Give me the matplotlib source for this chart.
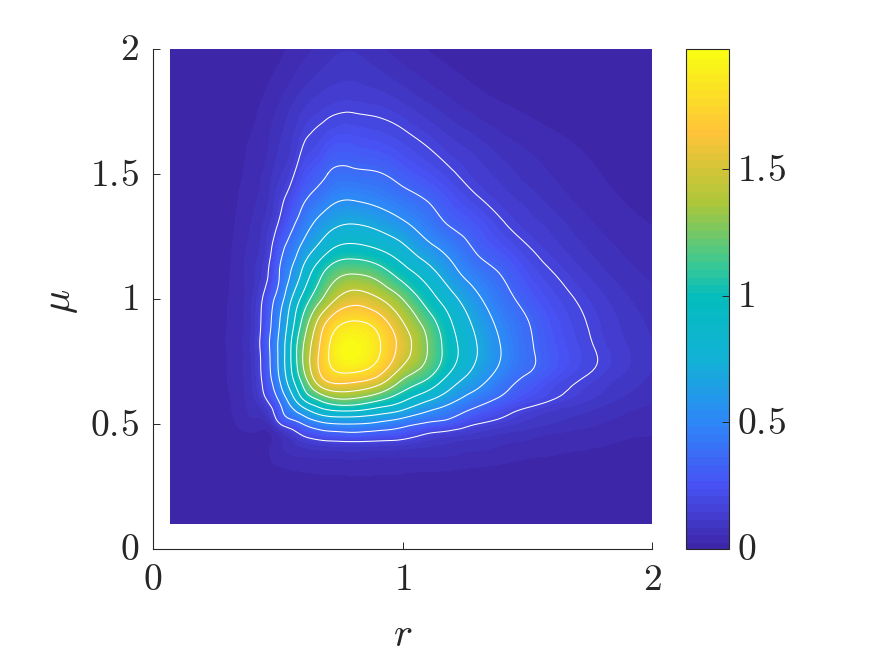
import numpy as np
import matplotlib
matplotlib.use("Agg")
import matplotlib.pyplot as plt
import matplotlib.tri as mtri
from matplotlib.colors import LinearSegmentedColormap, BoundaryNorm
from matplotlib.cm import ScalarMappable
from matplotlib.transforms import ScaledTranslation

r_nodes = [0.072, 0.2, 0.3, 0.4, 0.45, 0.5, 0.55, 0.6, 0.65, 0.7, 0.8, 0.9, 1.0, 1.1, 1.2, 1.3, 1.4, 1.5, 1.6, 1.8, 2.0]
mu_nodes = [0.1, 0.2, 0.3, 0.4, 0.45, 0.5, 0.55, 0.6, 0.65, 0.7, 0.8, 0.9, 1.0, 1.1, 1.2, 1.3, 1.4, 1.5, 1.6, 1.8, 2.0]

# density; the field is nearly symmetric in (r, mu), so each row starts at the diagonal
row_010 = [0.0] * 21
row_020 = [.001, .002, .003, .003, .004, .004, .004, .004, .004, .004, .004, .004, .004, .004, .003, .003, .003, .002, .002, .002]
row_030 = [.004, .012, .016, .02, .024, .027, .03, .032, .033, .032, .03, .027, .024, .02, .017, .014, .012, .008, .005]
row_040 = [.004, .02, .05, .07, .085, .095, .10, .105, .10, .095, .085, .075, .065, .055, .045, .038, .028, .018]
row_045 = [.02, .05, .10, .17, .22, .25, .27, .25, .22, .15, .12, .10, .08, .07, .055, .04, .03]
row_050 = [.15, .26, .36, .46, .52, .54, .50, .42, .33, .27, .18, .14, .11, .09, .06, .04]
row_055 = [.47, .62, .76, .85, .88, .80, .69, .54, .43, .31, .22, .155, .12, .08, .05]
row_060 = [.90, 1.07, 1.20, 1.25, 1.13, .95, .76, .59, .44, .33, .24, .185, .11, .07]
row_065 = [1.35, 1.52, 1.54, 1.42, 1.16, .97, .73, .56, .41, .30, .22, .13, .08]
row_070 = [1.72, 1.78, 1.66, 1.34, 1.14, .86, .65, .48, .36, .27, .155, .09]
row_080 = [1.97, 1.83, 1.54, 1.26, .96, .72, .53, .39, .29, .165, .095]
row_090 = [1.74, 1.46, 1.19, .90, .67, .49, .37, .27, .15, .085]
row_100 = [1.26, 1.0, .77, .57, .42, .31, .23, .13, .07]
row_110 = [.81, .60, .45, .35, .25, .185, .10, .055]
row_120 = [.47, .34, .26, .19, .14, .075, .04]
row_130 = [.27, .19, .14, .11, .055, .03]
row_140 = [.14, .11, .08, .04, .02]
row_150 = [.08, .06, .03, .015]
row_160 = [.045, .022, .01]
row_180 = [.012, .006]
row_200 = [.003]
upper_rows = [row_010, row_020, row_030, row_040, row_045, row_050, row_055, row_060, row_065, row_070,
              row_080, row_090, row_100, row_110, row_120, row_130, row_140, row_150, row_160, row_180, row_200]
# the top two rows of the picture are fainter than the right-hand columns
top_mu_180 = [0, .002, .006, .02, .035, .055, .08, .105, .125, .14, .15, .14, .115, .085, .06, .04, .028, .02, .014, .008, .005]
top_mu_200 = [0, .001, .002, .006, .012, .022, .035, .05, .065, .08, .09, .07, .045, .03, .018, .012, .008, .005, .004, .003, .002]

contour_levels = [0.18, 0.36, 0.54, 0.72, 0.90, 1.08, 1.26, 1.44, 1.62, 1.80]
z_max = 1.975
x_ticks = [0, 1, 2]
x_tick_labels = ["$0$", "$1$", "$2$"]
y_ticks = [0, 0.5, 1, 1.5, 2]
y_tick_labels = ["$0$", r"$0.\!5$", "$1$", r"$1.\!5$", "$2$"]
bar_ticks = [0, 0.5, 1, 1.5]
bar_tick_labels = ["$0$", r"$0.\!5$", "$1$", r"$1.\!5$"]

parula_stops = [(0.0, (0.2422, 0.1504, 0.6603)), (0.127, (0.2810, 0.3228, 0.9579)),
                (0.254, (0.1786, 0.5289, 0.9682)), (0.381, (0.0689, 0.6948, 0.8394)),
                (0.508, (0.0165, 0.7408, 0.7377)), (0.571, (0.2161, 0.7843, 0.5923)),
                (0.698, (0.6720, 0.7793, 0.2227)), (0.841, (0.9970, 0.7659, 0.2199)),
                (1.0, (0.9769, 0.9839, 0.0805))]
cmap = LinearSegmentedColormap.from_list("parula_like", parula_stops, N=64)

plt.rcParams["mathtext.fontset"] = "cm"
ink = "#262626"
W, H = 891, 656
fig = plt.figure(figsize=(W / 100, H / 100), dpi=100)
ax = fig.add_axes([153 / W, (H - 549) / H, 499 / W, 500 / H])

n = len(r_nodes)
Z = np.zeros((n, n))
for i, row in enumerate(upper_rows):
    for k, v in enumerate(row):
        Z[i, i + k] = v
        Z[i + k, i] = v
Z[-2, :] = top_mu_180
Z[-1, :] = top_mu_200
R, M = np.meshgrid(r_nodes, mu_nodes)
tri = mtri.Triangulation(R.ravel(), M.ravel())
# interpolate the logarithm: the field falls off roughly exponentially, so this keeps contours smooth
log_z = np.log(Z.ravel() + 0.01)
interp = mtri.CubicTriInterpolator(tri, log_z, kind="min_E")
fine_tri, fine_log = mtri.UniformTriRefiner(tri).refine_field(log_z, interp, subdiv=3)
fine_z = np.clip(np.exp(fine_log) - 0.01, 0, None)

fill_levels = np.linspace(0, z_max, 65)
norm = BoundaryNorm(fill_levels, cmap.N)
ax.tricontourf(fine_tri, fine_z, levels=fill_levels, cmap=cmap, norm=norm, extend="max", antialiased=False)
ax.tricontour(fine_tri, fine_z, levels=contour_levels, colors="white", linewidths=0.75)

ax.set_xlim(0, 2)
ax.set_ylim(0, 2)
for side in ("top", "right"):
    ax.spines[side].set_visible(False)
for side in ("left", "bottom"):
    ax.spines[side].set_color(ink)
    ax.spines[side].set_linewidth(0.8)
ax.set_xticks(x_ticks, x_tick_labels)
ax.set_yticks(y_ticks, y_tick_labels)
ax.tick_params(direction="in", length=5, width=0.7, color=ink, labelcolor=ink, labelsize=27)
ax.tick_params(axis="x", pad=9)
ax.tick_params(axis="y", pad=10)
ax.set_xlabel("$r$", fontsize=29, color=ink)
ax.set_ylabel(r"$\mu$", fontsize=29, color=ink)
ax.xaxis.set_label_coords(0.5, -0.131)
ax.yaxis.set_label_coords(-0.147, 0.495)

cax = fig.add_axes([686 / W, (H - 549) / H, 43 / W, 500 / H])
cb = fig.colorbar(ScalarMappable(norm=norm, cmap=cmap), cax=cax, spacing="proportional")
cb.solids.set_edgecolor("face")
cb.set_ticks(bar_ticks, labels=bar_tick_labels)
cb.minorticks_off()
cb.outline.set_edgecolor(ink)
cb.outline.set_linewidth(0.8)
cax.tick_params(direction="in", length=5, width=0.7, color=ink, labelcolor=ink, labelsize=27, pad=6)

lift = ScaledTranslation(0, 2.5 / 100, fig.dpi_scale_trans)
for lab in ax.get_yticklabels() + cax.get_yticklabels():
    lab.set_transform(lab.get_transform() + lift)

fig.savefig("out.png", dpi=100)
